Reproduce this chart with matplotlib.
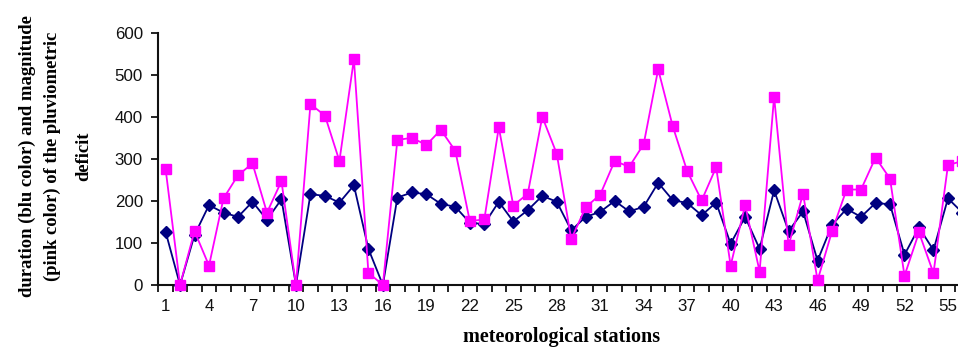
import matplotlib
matplotlib.use("Agg")
import matplotlib.pyplot as plt
from matplotlib.ticker import FixedLocator

stations = list(range(1, 57))
duration = [127, 0, 119, 190, 172, 162, 198, 155, 204, 0,
            216, 212, 196, 237, 86, 0, 208, 220, 216, 193,
            186, 148, 145, 198, 151, 178, 212, 198, 130, 162,
            174, 200, 175, 186, 243, 202, 195, 166, 196, 98,
            162, 86, 225, 128, 175, 58, 143, 181, 162, 195,
            192, 72, 137, 83, 206, 172]
magnitude = [277, 0, 128, 46, 206, 261, 289, 172, 247, 0,
             430, 403, 295, 537, 29, 0, 345, 350, 333, 369,
             319, 152, 156, 375, 189, 217, 400, 312, 109, 185,
             215, 295, 281, 335, 513, 378, 271, 201, 280, 46,
             190, 32, 448, 94, 217, 11, 128, 227, 227, 303,
             253, 22, 125, 28, 285, 295]
xtick_labels = list(range(1, 57, 3))
yticks = [0, 100, 200, 300, 400, 500, 600]
ylabel_lines = ["duration (blu color) and magnitude",
                "(pink color) of the pluviometric",
                "deficit"]
xlabel = "meteorological stations"

W, H = 958, 347
fig = plt.figure(figsize=(W / 100, H / 100), dpi=100)
left, right = 158.3, 969.7
top, bottom = 32.7, 285.0
ax = fig.add_axes([left / W, 1 - bottom / H, (right - left) / W, (bottom - top) / H])

ax.plot(stations, duration, color="#000080", marker="D", markersize=6.5,
        linewidth=1.3, clip_on=False, zorder=3)
ax.plot(stations, magnitude, color="#FF00FF", marker="s", markersize=6.5,
        linewidth=1.3, clip_on=False, zorder=4)

ax.set_xlim(0.5, 56.5)
ax.set_ylim(0, 600)
ax.set_yticks(yticks)
ax.set_xticks(xtick_labels)
ax.set_xticklabels([str(v) for v in xtick_labels])
ax.xaxis.set_minor_locator(FixedLocator([i + 0.5 for i in range(0, 57)]))
ax.tick_params(axis="x", which="major", length=0, pad=10)
ax.tick_params(axis="x", which="minor", length=5, width=1.2, direction="out")
ax.tick_params(axis="y", which="major", length=5, width=1.2, direction="out", pad=6)
for lab in ax.get_xticklabels() + ax.get_yticklabels():
    lab.set_fontfamily("Liberation Sans")
    lab.set_fontsize(12.2)
    lab.set_color("#111111")

for s in ["top", "right"]:
    ax.spines[s].set_visible(False)
for s in ["left", "bottom"]:
    ax.spines[s].set_linewidth(1.5)
    ax.spines[s].set_color("#111111")

baselines_px = [31.7, 56.7, 88.3]
for line, bx in zip(ylabel_lines, baselines_px):
    fig.text(bx / W, 1 - 156.5 / H, line, rotation=90, rotation_mode="anchor",
             ha="center", va="baseline",
             family="Liberation Serif", fontweight="bold", fontsize=13.4)
fig.text(562 / W, 1 - 342 / H, xlabel, ha="center", va="baseline",
         family="Liberation Serif", fontweight="bold", fontsize=14.5)

fig.savefig("out.png", dpi=100)
